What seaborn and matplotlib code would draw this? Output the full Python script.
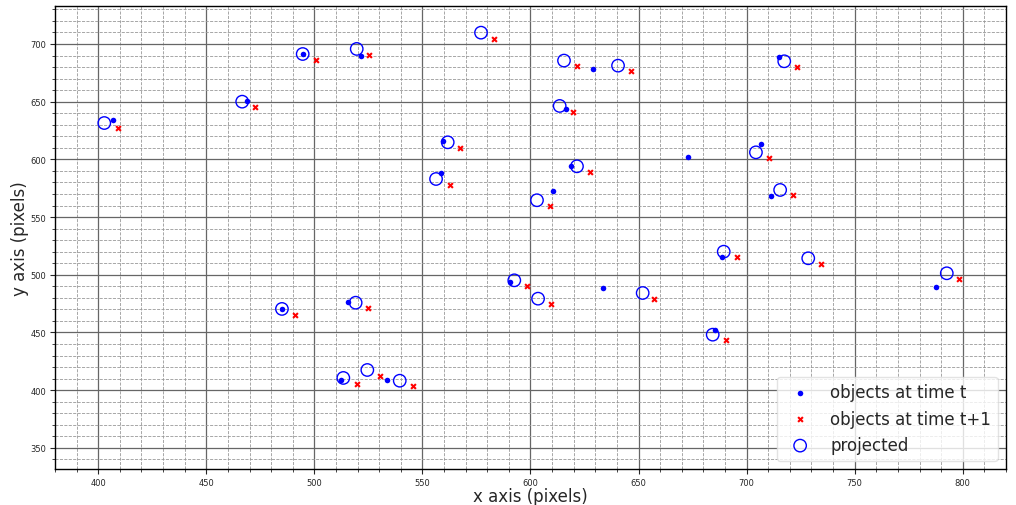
import matplotlib
matplotlib.use("Agg")
import matplotlib.pyplot as plt
import seaborn as sns
import pandas as pd
from matplotlib.ticker import MultipleLocator

sns.set_style("ticks")
plt.rcParams['font.family'] = ['DejaVu Sans']

# objects at time t
t_x = [406.9, 468.7, 494.6, 521.6, 629.1, 616.4, 559.7, 558.6, 618.6, 610.5,
       715.0, 673.0, 706.5, 711.4, 688.5, 633.4, 685.5, 787.5, 515.4, 590.5,
       512.3, 533.5, 485.0]
t_y = [634.1, 650.3, 691.3, 689.3, 678.6, 643.4, 616.2, 588.2, 594.0, 572.4,
       688.7, 602.3, 613.1, 568.3, 515.2, 488.3, 452.4, 489.4, 476.4, 493.5,
       408.8, 408.6, 470.4]

# objects at time t+1
t1_x = [409.0, 472.5, 500.6, 525.4, 583.0, 621.4, 646.5, 619.5, 567.5, 562.6,
        627.5, 608.9, 723.5, 710.5, 721.5, 695.4, 734.4, 657.3, 690.5, 798.4,
        524.9, 598.5, 609.5, 519.6, 530.5, 545.5, 490.9]
t1_y = [627.0, 645.1, 686.1, 690.5, 704.6, 680.7, 676.3, 641.1, 610.1, 578.1,
        589.1, 559.6, 680.1, 601.2, 568.9, 515.2, 509.1, 479.3, 443.2, 496.0,
        470.9, 490.3, 474.4, 405.4, 412.3, 403.4, 464.9]

# projected
p_x = [402.8, 466.6, 494.6, 519.6, 577.1, 615.5, 640.5, 613.5, 561.7, 556.3,
       621.5, 603.0, 717.4, 704.3, 715.5, 689.4, 728.5, 651.9, 684.3, 792.6,
       519.1, 592.5, 603.5, 513.4, 524.5, 539.5, 485.0]
p_y = [631.5, 650.0, 691.3, 695.7, 709.8, 685.6, 681.2, 646.3, 614.8, 583.0,
       594.0, 564.6, 685.0, 606.1, 573.5, 520.0, 514.3, 484.2, 448.1, 501.3,
       475.8, 495.2, 479.3, 410.6, 417.5, 408.2, 470.4]

df_t = pd.DataFrame({"x": t_x, "y": t_y})
df_t1 = pd.DataFrame({"x": t1_x, "y": t1_y})
df_p = pd.DataFrame({"x": p_x, "y": p_y})

fig = plt.figure(figsize=(10.16, 5.06), dpi=100)
ax = fig.add_axes([55/1016, 1-470/506, (1006-55)/1016, (470-7)/506])

sns.scatterplot(data=df_t, x="x", y="y", ax=ax, color="blue", marker="o",
                s=16, linewidth=0, label="objects at time t", zorder=3)
sns.scatterplot(data=df_t1, x="x", y="y", ax=ax, color="red", marker="x",
                s=12, linewidth=1.5, label="objects at time t+1", zorder=3)
sns.scatterplot(data=df_p, x="x", y="y", ax=ax, marker="o", s=80,
                facecolor="none", edgecolor="blue", linewidth=1.0,
                label="projected", zorder=4)

ax.set_xlim(380, 820)
ax.set_ylim(331.7, 732.9)
ax.xaxis.set_major_locator(MultipleLocator(50))
ax.yaxis.set_major_locator(MultipleLocator(50))
ax.xaxis.set_minor_locator(MultipleLocator(10))
ax.yaxis.set_minor_locator(MultipleLocator(10))
ax.grid(True, which="major", color="#666666", linestyle="-", linewidth=0.9)
ax.grid(True, which="minor", color="#999999", linestyle="--", linewidth=0.6)
ax.set_axisbelow(True)
for sp in ax.spines.values():
    sp.set_visible(True)
    sp.set_color("black")
    sp.set_linewidth(1.0)
ax.tick_params(axis="both", which="major", labelsize=6, length=3.5, width=0.8,
               direction="out", pad=3)
ax.tick_params(axis="both", which="minor", length=2, width=0.6, direction="out")

ax.set_xlabel("x axis (pixels)", fontsize=12, labelpad=0)
ax.set_ylabel("y axis (pixels)", fontsize=12, labelpad=1)

leg = ax.legend(loc="lower right", fontsize=12, frameon=True, framealpha=0.8,
                edgecolor="#dddddd", markerscale=1.0)

fig.savefig("out.png", dpi=100)
